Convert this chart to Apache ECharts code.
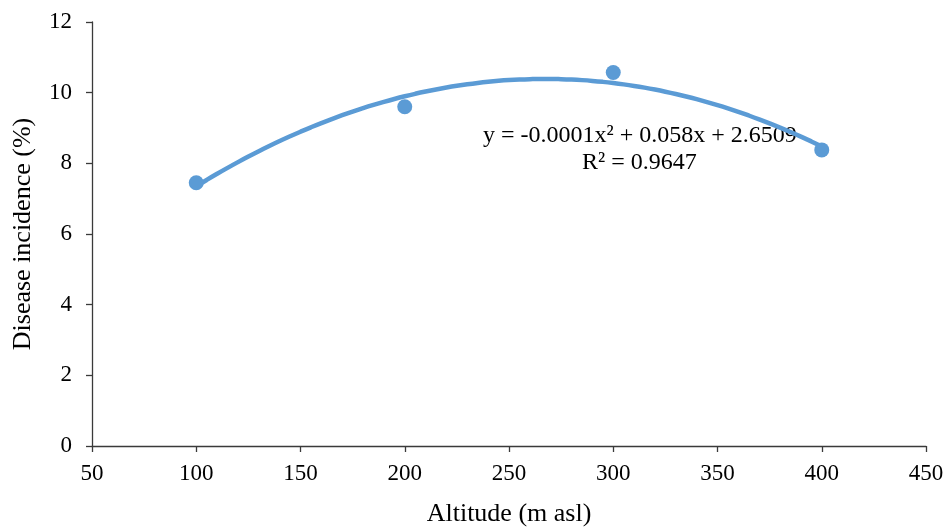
<!DOCTYPE html>
<html>
<head>
<meta charset="utf-8">
<script src="https://cdn.jsdelivr.net/npm/echarts@6/dist/echarts.min.js"></script>
<style>
  html, body { margin: 0; padding: 0; background: #fff; }
  #chart { width: 947px; height: 527px; }
</style>
</head>
<body>
<div id="chart"></div>
<script>
    var altitude = [100, 200, 300, 400];
    var incidence = [7.45, 9.6, 10.57, 8.38];
    var eqText = 'y = -0.0001x\u00b2 + 0.058x + 2.6509';
    var r2Text = 'R\u00b2 = 0.9647';

    // least squares quadratic fit (what the spreadsheet trendline does)
    function fitQuadratic(xs, ys) {
        var s = [0, 0, 0, 0, 0], t = [0, 0, 0];
        for (var i = 0; i < xs.length; i++) {
            var p = 1;
            for (var k = 0; k < 5; k++) {
                s[k] += p;
                if (k < 3) t[k] += p * ys[i];
                p *= xs[i];
            }
        }
        var m = [[s[0], s[1], s[2], t[0]], [s[1], s[2], s[3], t[1]], [s[2], s[3], s[4], t[2]]];
        for (var c = 0; c < 3; c++) {
            for (var r = c + 1; r < 3; r++) {
                var f = m[r][c] / m[c][c];
                for (var j = c; j < 4; j++) m[r][j] -= f * m[c][j];
            }
        }
        var coef = [0, 0, 0];
        for (var r2 = 2; r2 >= 0; r2--) {
            var v = m[r2][3];
            for (var j2 = r2 + 1; j2 < 3; j2++) v -= m[r2][j2] * coef[j2];
            coef[r2] = v / m[r2][r2];
        }
        return coef;
    }

    var coef = fitQuadratic(altitude, incidence);
    var trend = [];
    for (var x = altitude[0]; x <= altitude[altitude.length - 1]; x += 5) {
        trend.push([x, coef[0] + coef[1] * x + coef[2] * x * x]);
    }

    var font = '"Liberation Serif", "Times New Roman", serif';
    var axisColor = '#3a3a3a';
    var chart = echarts.init(document.getElementById('chart'));

    chart.setOption({
        animation: false,
        grid: { left: 92, right: 21, top: 22, bottom: 81, outerBoundsMode: 'none', containLabel: false },
        xAxis: {
            type: 'value', min: 50, max: 450, interval: 50,
            name: 'Altitude (m asl)', nameLocation: 'middle', nameGap: 55,
            nameTextStyle: { fontFamily: font, fontSize: 26, color: '#000' },
            axisLine: { show: true, lineStyle: { color: axisColor, width: 1.3 } },
            axisTick: { show: true, length: 6, lineStyle: { color: axisColor, width: 1.3 } },
            axisLabel: { fontFamily: font, fontSize: 23, color: '#000', margin: 16 },
            splitLine: { show: false }
        },
        yAxis: {
            type: 'value', min: 0, max: 12, interval: 2,
            name: 'Disease incidence (%)', nameLocation: 'middle', nameGap: 56,
            nameTextStyle: { fontFamily: font, fontSize: 26, color: '#000' },
            axisLine: { show: true, lineStyle: { color: axisColor, width: 1.3 } },
            axisTick: { show: true, length: 6, lineStyle: { color: axisColor, width: 1.3 } },
            axisLabel: { fontFamily: font, fontSize: 23, color: '#000', margin: 20 },
            splitLine: { show: false }
        },
        series: [{
            type: 'line',
            data: trend,
            showSymbol: false,
            smooth: true,
            lineStyle: { color: '#5b9bd5', width: 4.5 },
            z: 2
        }, {
            type: 'scatter',
            data: altitude.map(function(a, i) { return [a, incidence[i]]; }),
            symbolSize: 15,
            itemStyle: { color: '#5b9bd5', opacity: 1 },
            z: 3
        }],
        graphic: [{
            type: 'text', left: 483, top: 124,
            style: { text: eqText, font: '24px ' + font, fill: '#000' }
        }, {
            type: 'text', left: 582, top: 151,
            style: { text: r2Text, font: '24px ' + font, fill: '#000' }
        }]
    });
</script>
</body>
</html>
